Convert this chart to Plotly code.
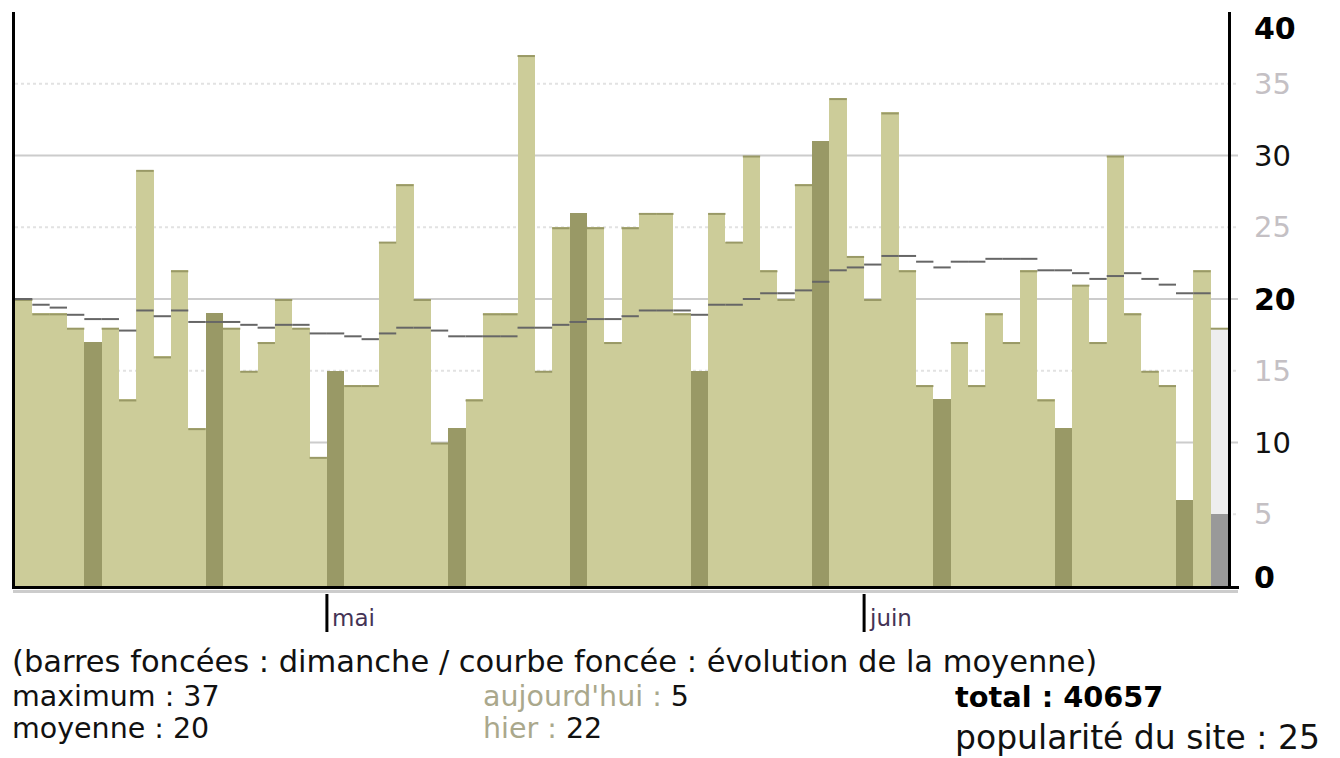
import datetime as dt
import plotly.graph_objects as go

# ---------------- data ----------------
start_date = "2016-04-13"
visits = [20, 19, 19, 18, 17, 18, 13, 29, 16, 22,
          11, 19, 18, 15, 17, 20, 18, 9, 15, 14,
          14, 24, 28, 20, 10, 11, 13, 19, 19, 37,
          15, 25, 26, 25, 17, 25, 26, 26, 19, 15,
          26, 24, 30, 22, 20, 28, 31, 34, 23, 20,
          33, 22, 14, 13, 17, 14, 19, 17, 22, 13,
          11, 21, 17, 30, 19, 15, 14, 6, 22, 5]
moving_avg = [20.0, 19.6, 19.4, 18.9, 18.6, 18.6, 17.8, 19.2, 18.8, 19.2,
              18.4, 18.4, 18.4, 18.2, 18.0, 18.2, 18.2, 17.6, 17.6, 17.4,
              17.2, 17.6, 18.0, 18.0, 17.8, 17.4, 17.4, 17.4, 17.4, 18.0,
              18.0, 18.2, 18.4, 18.6, 18.6, 18.8, 19.2, 19.2, 19.2, 18.9,
              19.6, 19.6, 20.0, 20.4, 20.4, 20.6, 21.2, 22.0, 22.2, 22.4,
              23.0, 23.0, 22.6, 22.2, 22.6, 22.6, 22.8, 22.8, 22.8, 22.0,
              22.0, 21.8, 21.4, 21.6, 21.8, 21.4, 21.0, 20.4, 20.4]
today_forecast = 18
y_ticks = [0, 5, 10, 15, 20, 25, 30, 35, 40]
y_tick_labels = ["0", "5", "10", "15", "20", "25", "30", "35", "40"]
month_names = ["janvier", "février", "mars", "avril", "mai", "juin", "juillet",
               "août", "septembre", "octobre", "novembre", "décembre"]
stat_maximum = 37
stat_moyenne = 20
stat_aujourdhui = 5
stat_hier = 22
stat_total = 40657
stat_popularite = 25

# ---------------- derived ----------------
d0 = dt.date.fromisoformat(start_date)
dates = [d0 + dt.timedelta(days=i) for i in range(len(visits))]
xs = list(range(len(visits)))
n = len(visits)

LIGHT = "#cccc99"
DARK = "#999966"
TODAY = "#999999"

colors = []
for i, d in enumerate(dates):
    if i == n - 1:
        colors.append(TODAY)
    elif d.weekday() == 6:
        colors.append(DARK)
    else:
        colors.append(LIGHT)

# plot geometry (pixels)
L, R, T, B = 15, 1340 - 1228, 12, 758 - 586
W = 1340 - L - R
H = 758 - T - B
unit = H / 40.0


def pxx(p):
    return (p - L) / W


def pxy(p):
    return (586 - p) / H


fig = go.Figure()

# forecast background for today
fig.add_trace(go.Bar(x=[xs[-1]], y=[today_forecast], marker=dict(color="#eeeeee", line=dict(width=0)),
                     width=1, hoverinfo="skip", showlegend=False))
# main bars
fig.add_trace(go.Bar(x=xs, y=visits, marker=dict(color=colors, line=dict(width=0)),
                     width=1, showlegend=False))

# caps on top of weekday bars
cap_off = 1.0 / unit
cx, cy = [], []
for i, v in enumerate(visits):
    if colors[i] == LIGHT:
        cx += [i - 0.5, i + 0.5, None]
        cy += [v - cap_off, v - cap_off, None]
cx += [xs[-1] - 0.5, xs[-1] + 0.5, None]
cy += [today_forecast - cap_off, today_forecast - cap_off, None]
fig.add_trace(go.Scatter(x=cx, y=cy, mode="lines", line=dict(color=DARK, width=2),
                         hoverinfo="skip", showlegend=False))

# moving average as per-day segments
ax, ay = [], []
for i, v in enumerate(moving_avg):
    ax += [i - 0.5, i + 0.5, None]
    ay += [v, v, None]
fig.add_trace(go.Scatter(x=ax, y=ay, mode="lines", line=dict(color="#666666", width=2),
                         hoverinfo="skip", showlegend=False))

shapes = []
grid_end = pxx(1238)
for v in y_ticks:
    if v in (0, 40):
        continue
    if v % 10 == 0:
        shapes.append(dict(type="line", xref="paper", yref="y", x0=0, x1=grid_end, y0=v, y1=v,
                           line=dict(color="#cccccc", width=2), layer="below"))
    else:
        shapes.append(dict(type="line", xref="paper", yref="y", x0=0, x1=grid_end, y0=v, y1=v,
                           line=dict(color="#e2e2e2", width=2, dash="3px,3px"), layer="below"))
# grey line under the x axis
shapes.append(dict(type="line", xref="paper", yref="paper", x0=pxx(13), x1=grid_end,
                   y0=pxy(591.5), y1=pxy(591.5), line=dict(color="#cccccc", width=3)))
# small tick at 0 on the right axis
shapes.append(dict(type="line", xref="paper", yref="paper", x0=1.0, x1=pxx(1239),
                   y0=pxy(587.5), y1=pxy(587.5), line=dict(color="black", width=3)))

annotations = []
# month ticks
for i, d in enumerate(dates):
    if d.day == 1:
        shapes.append(dict(type="line", xref="x", yref="paper", x0=i - 0.5, x1=i - 0.5,
                           y0=pxy(594), y1=pxy(632), line=dict(color="black", width=3)))
        annotations.append(dict(x=i - 0.5, xref="x", y=pxy(618), yref="paper", xanchor="left",
                                yanchor="middle", xshift=3, showarrow=False, text=month_names[d.month - 1],
                                font=dict(family="DejaVu Sans", size=23, color="#443355")))

# y labels on the right
for v, lab in zip(y_ticks, y_tick_labels):
    if v % 20 == 0:
        txt, col, fs = "<b>%s</b>" % lab, "#000000", 30
    elif v % 10 == 0:
        txt, col, fs = lab, "#111111", 29
    else:
        txt, col, fs = lab, "#c4c0c4", 29
    shift = 0
    if v == 40:
        shift = -16
    elif v == 0:
        shift = 9
    annotations.append(dict(x=pxx(1252), xref="paper", y=v, yref="y", xanchor="left", yanchor="middle",
                            yshift=shift, showarrow=False, text=txt,
                            font=dict(family="DejaVu Sans", size=fs, color=col)))


def note(x, y, text, size, color="#111111"):
    annotations.append(dict(x=pxx(x), xref="paper", y=pxy(y), yref="paper", xanchor="left",
                            yanchor="middle", showarrow=False, text=text,
                            font=dict(family="DejaVu Sans", size=size, color=color)))


note(10, 661, "(barres foncées : dimanche / courbe foncée : évolution de la moyenne)", 30.5)
note(10, 696, "maximum : %d" % stat_maximum, 28.5)
note(10, 728, "moyenne : %d" % stat_moyenne, 28.5)
note(481, 696, "<span style='color:#aaa88c'>aujourd'hui :</span> %d" % stat_aujourdhui, 28.5)
note(481, 728, "<span style='color:#aaa88c'>hier :</span> %d" % stat_hier, 28.5)
note(953, 697, "<b>total : %d</b>" % stat_total, 28.8, "#000000")
note(953, 737, "popularité du site : %d" % stat_popularite, 33)

fig.update_layout(
    width=1340, height=758,
    margin=dict(l=L, r=R, t=T, b=B),
    paper_bgcolor="white", plot_bgcolor="white",
    barmode="overlay", bargap=0,
    showlegend=False,
    xaxis=dict(range=[-0.5, n - 0.5], showgrid=False, zeroline=False, showticklabels=False, ticks="",
               showline=True, linecolor="black", linewidth=3, mirror=False),
    yaxis=dict(range=[0, 40], showgrid=False, zeroline=False, showticklabels=False, ticks="",
               showline=True, linecolor="black", linewidth=3, mirror=True),
    shapes=shapes, annotations=annotations,
)

fig.write_html("out.html", config={"displayModeBar": False},
               post_script="document.body.style.margin='0px';document.body.style.overflow='hidden';")
